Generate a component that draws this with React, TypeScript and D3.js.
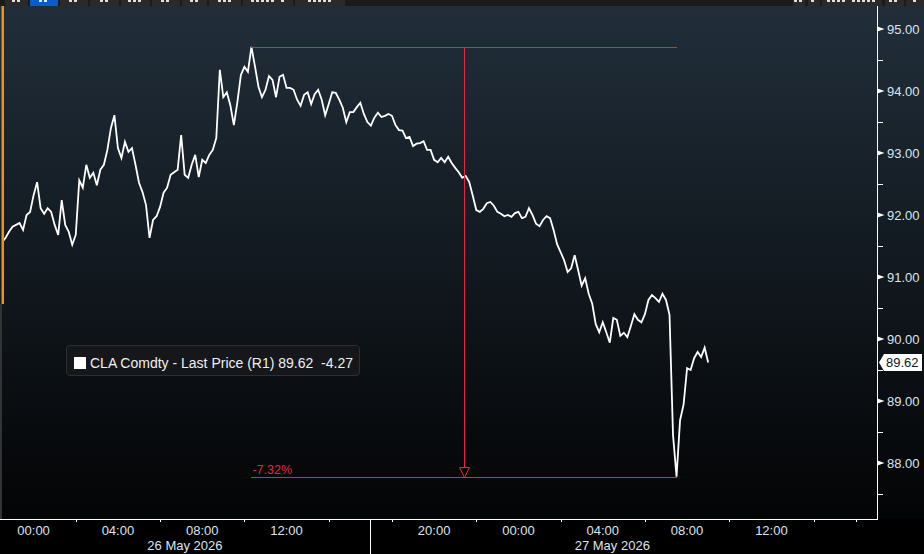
import { useEffect, useRef } from "react";
import * as d3 from "d3";

// trading hours counted from 26 May 2026 00:00, the daily 16:00-17:00 break taken out
const startHour = -1.5;
const stepMinutes = 10;

const prices = [
  91.56, 91.63, 91.73, 91.81, 91.84, 91.87, 91.76, 92.0, 92.05, 92.32,
  92.53, 92.11, 92.02, 92.11, 92.05, 91.84, 91.68, 92.24, 91.84, 91.73,
  91.52, 91.68, 92.56, 92.44, 92.81, 92.6, 92.68, 92.48, 92.73, 92.81,
  93.05, 93.4, 93.61, 93.08, 92.92, 93.18, 93.02, 93.08, 92.81, 92.52,
  92.37, 92.16, 91.63, 91.92, 91.98, 92.13, 92.36, 92.44, 92.65, 92.69,
  92.73, 93.29, 92.65, 92.6, 92.81, 92.97, 92.61, 92.89, 92.84, 92.97,
  93.05, 93.24, 94.34, 93.9, 93.98, 93.77, 93.45, 93.82, 94.26, 94.39,
  94.31, 94.71, 94.4, 94.07, 93.9, 94.02, 94.24, 94.18, 93.9, 94.23,
  94.26, 94.05, 94.05, 94.02, 93.86, 93.76, 93.94, 93.98, 93.79, 93.95,
  94.02, 93.86, 93.61, 93.79, 93.98, 93.97, 93.86, 93.73, 93.5, 93.66,
  93.66, 93.74, 93.81, 93.63, 93.5, 93.44, 93.57, 93.65, 93.58, 93.6,
  93.63, 93.6, 93.45, 93.37, 93.36, 93.24, 93.26, 93.11, 93.15, 93.16,
  93.19, 93.05, 93.05, 92.89, 92.85, 92.92, 92.85, 92.94, 92.84, 92.76,
  92.69, 92.6, 92.63, 92.53, 92.31, 92.08, 92.05, 92.1, 92.19, 92.21,
  92.15, 92.05, 92.02, 91.98, 92.0, 91.97, 92.03, 92.05, 91.95, 91.97,
  92.11, 92.0, 91.86, 91.82, 91.92, 91.98, 91.95, 91.76, 91.53, 91.4,
  91.27, 91.08, 91.14, 91.35, 91.11, 90.86, 90.98, 90.73, 90.57, 90.24,
  90.11, 90.27, 90.11, 89.94, 90.34, 90.31, 90.05, 90.1, 90.03, 90.21,
  90.4, 90.31, 90.27, 90.4, 90.63, 90.71, 90.66, 90.6, 90.73, 90.63,
  90.39, 88.45, 87.78, 88.69, 88.94, 89.53, 89.5, 89.69, 89.79, 89.71,
  89.86, 89.62,
];
const prevClose = 93.89;
const legendLabel = "CLA Comdty - Last Price (R1)";

const priceTicks = [88, 89, 90, 91, 92, 93, 94, 95];
const priceMinorTicks = [87.5, 88.5, 89.5, 90.5, 91.5, 92.5, 93.5, 94.5];

const timeTickHours = [0, 4, 8, 12, 19, 23, 27, 31, 35];
const timeTickLabels = ["00:00", "04:00", "08:00", "12:00", "20:00", "00:00", "04:00", "08:00", "12:00"];
const timeMinorHours = [2, 6, 10, 14, 17, 21, 25, 29, 33, 37, 39];
const sessionBreaks = [16, 39];
const dayLabels = ["26 May 2026", "27 May 2026"];

// toolbar above the chart is cut off, only the feet of its captions show
const toolbarTabs = ["1D", "3D", "1M", "6M", "YTD", "1Y", "5Y", "Max", "Daily v", "Table"];
const toolbarWidths = [23, 28, 28, 29, 29, 28, 25, 32, 50, 50];
const toolbarRight = ["<<", ">", "Line Chart", "+2", "*"];
const toolbarRightWidths = [12, 12, 60, 19, 18];

const W = 924;
const H = 554;
const FONT = "'Liberation Sans', Arial, sans-serif";
const AXIS_TEXT = "#dbe5ef";
const RED = "#e8253f";

const fmt = (v: number) => v.toFixed(2);

export default function App() {
  const svgRef = useRef<SVGSVGElement | null>(null);

  useEffect(() => {
    if (!svgRef.current) return;
    const svg = d3.select(svgRef.current);
    svg.selectAll("*").remove();

    const plot = { left: 0, right: 877.5, top: 6, bottom: 519 };

    const x = d3.scaleLinear().domain([0, 35]).range([33.6, 771.4]);
    const y = d3.scaleLinear().domain([88, 95]).range([463, 29]);
    const hourOf = (i: number) => startHour + (i * stepMinutes) / 60;

    const defs = svg.append("defs");
    const grad = defs.append("linearGradient").attr("id", "bg").attr("x1", 0).attr("y1", 0).attr("x2", 0).attr("y2", 1);
    grad.append("stop").attr("offset", "0%").attr("stop-color", "#212e3a");
    grad.append("stop").attr("offset", "100%").attr("stop-color", "#030405");
    defs.append("clipPath").attr("id", "plotClip")
      .append("rect").attr("x", 4).attr("y", plot.top).attr("width", plot.right - 4).attr("height", plot.bottom - plot.top);

    svg.append("rect").attr("width", W).attr("height", H).attr("fill", "#000");
    svg.append("rect").attr("x", 0).attr("y", plot.top).attr("width", W).attr("height", plot.bottom - plot.top).attr("fill", "url(#bg)");

    // toolbar sliver
    const bar = svg.append("g").attr("shape-rendering", "crispEdges");
    bar.append("rect").attr("width", W).attr("height", 6).attr("fill", "#1c1b18");
    const drawTab = (label: string, tx: number, w: number, active: boolean) => {
      bar.append("rect").attr("x", tx).attr("y", 0).attr("width", w).attr("height", 6)
        .attr("fill", active ? "#0a5cc7" : "#2a2a28");
      const cw = 5;
      const start = tx + w / 2 - (label.length * cw) / 2;
      label.split("").forEach((c, k) => {
        if (c === " ") return;
        bar.append("rect").attr("x", Math.round(start + k * cw)).attr("y", 0).attr("width", 3).attr("height", 2)
          .attr("fill", "#fff").attr("opacity", 0.85);
      });
    };
    let tx = 5;
    toolbarTabs.forEach((t, i) => {
      drawTab(t, tx, toolbarWidths[i], i === 1);
      tx += toolbarWidths[i] + 2;
    });
    let rx = 793;
    toolbarRight.forEach((t, i) => {
      drawTab(t, rx, toolbarRightWidths[i], false);
      rx += toolbarRightWidths[i] + 2.5;
    });

    // left edge marker
    svg.append("rect").attr("x", 1.5).attr("y", plot.top).attr("width", 2.5).attr("height", 298).attr("fill", "#ee9410");
    svg.append("rect").attr("x", 0).attr("y", 304).attr("width", 2).attr("height", plot.bottom - 304).attr("fill", "#333");

    // price line
    const line = d3.line<number>().x((_, i) => x(hourOf(i))).y((d) => y(d));
    svg.append("path").datum(prices).attr("clip-path", "url(#plotClip)")
      .attr("d", line).attr("fill", "none").attr("stroke", "#fff").attr("stroke-width", 1.8).attr("stroke-linejoin", "miter");

    // high-to-low measurement
    const hiIdx = d3.maxIndex(prices);
    const loIdx = d3.minIndex(prices);
    const hi = prices[hiIdx];
    const lo = prices[loIdx];
    const x1 = x(hourOf(hiIdx));
    const x2 = x(hourOf(loIdx));
    const xm = Math.round((x1 + x2) / 2);
    const yHi = Math.round(y(hi)) + 0.5;
    const yLo = Math.round(y(lo)) + 0.5;
    const m = svg.append("g").attr("shape-rendering", "crispEdges");
    m.append("line").attr("x1", x1).attr("x2", x2).attr("y1", yHi).attr("y2", yHi).attr("stroke", RED);
    m.append("line").attr("x1", x1).attr("x2", x2).attr("y1", yLo).attr("y2", yLo).attr("stroke", RED);
    m.append("line").attr("x1", xm + 0.5).attr("x2", xm + 0.5).attr("y1", yHi).attr("y2", yLo - 10).attr("stroke", RED);
    svg.append("path")
      .attr("d", `M${xm - 4.5},${yLo - 10}L${xm + 5.5},${yLo - 10}L${xm + 0.5},${yLo}Z`)
      .attr("fill", "none").attr("stroke", RED).attr("stroke-width", 1);
    const pct = (lo / hi - 1) * 100;
    svg.append("text").attr("x", x1 + 1).attr("y", yLo - 4).attr("fill", RED)
      .style("font", `12.5px ${FONT}`).text(`${fmt(pct)}%`);

    // right price axis
    const ax = svg.append("g").attr("shape-rendering", "crispEdges");
    ax.append("line").attr("x1", plot.right).attr("x2", plot.right).attr("y1", plot.top).attr("y2", plot.bottom).attr("stroke", "#fff");
    priceMinorTicks.forEach((v) => {
      ax.append("line").attr("x1", plot.right).attr("x2", plot.right + 5)
        .attr("y1", Math.round(y(v)) + 0.5).attr("y2", Math.round(y(v)) + 0.5).attr("stroke", "#fff");
    });
    priceTicks.forEach((v) => {
      const yy = y(v);
      svg.append("path").attr("d", `M${plot.right},${yy - 2.5}L${plot.right + 7},${yy}L${plot.right},${yy + 2.5}Z`).attr("fill", "#fff");
      svg.append("text").attr("x", 887).attr("y", yy).attr("dy", "0.36em").attr("fill", AXIS_TEXT)
        .style("font", `13px ${FONT}`).text(fmt(v));
    });

    // last price tag
    const last = prices[prices.length - 1];
    const yl = y(last);
    svg.append("path").attr("d", `M879,${yl}L884,${yl - 8.5}L922,${yl - 8.5}L922,${yl + 8.5}L884,${yl + 8.5}Z`).attr("fill", "#fff");
    svg.append("text").attr("x", 886).attr("y", yl).attr("dy", "0.36em").attr("fill", "#0b1524")
      .style("font", `13px ${FONT}`).text(fmt(last));

    // bottom time axis
    const bx = svg.append("g").attr("shape-rendering", "crispEdges");
    bx.append("line").attr("x1", 0).attr("x2", plot.right).attr("y1", plot.bottom + 0.5).attr("y2", plot.bottom + 0.5).attr("stroke", "#fff");
    timeMinorHours.forEach((h) => {
      bx.append("line").attr("x1", Math.round(x(h)) + 0.5).attr("x2", Math.round(x(h)) + 0.5)
        .attr("y1", plot.bottom).attr("y2", plot.bottom + 3).attr("stroke", "#fff");
    });
    sessionBreaks.slice(0, 1).forEach((h) => {
      bx.append("line").attr("x1", Math.round(x(h)) - 0.5).attr("x2", Math.round(x(h)) - 0.5)
        .attr("y1", plot.bottom).attr("y2", H).attr("stroke", "#fff");
    });
    timeTickHours.forEach((h, i) => {
      svg.append("text").attr("x", x(h)).attr("y", 535).attr("text-anchor", "middle").attr("fill", AXIS_TEXT)
        .style("font", `13px ${FONT}`).text(timeTickLabels[i]);
    });
    dayLabels.forEach((d, i) => {
      const a = i === 0 ? plot.left : x(sessionBreaks[i - 1]) - 1;
      const b = x(sessionBreaks[i]) - 1;
      svg.append("text").attr("x", (a + b) / 2).attr("y", 550).attr("text-anchor", "middle").attr("fill", AXIS_TEXT)
        .style("font", `13px ${FONT}`).text(d);
    });

    // legend
    const lg = svg.append("g");
    lg.append("rect").attr("x", 66.5).attr("y", 345.5).attr("width", 293).attr("height", 30).attr("rx", 3)
      .attr("fill", "#15171a").attr("stroke", "#2c2f33");
    lg.append("rect").attr("x", 74).attr("y", 357).attr("width", 12).attr("height", 12).attr("fill", "#fff");
    lg.append("text").attr("x", 90).attr("y", 367.5).attr("fill", "#eef0f2").style("font", `14px ${FONT}`)
      .attr("xml:space", "preserve")
      .text(`${legendLabel} ${fmt(last)}  ${fmt(last - prevClose)}`);
  }, []);

  return (
    <svg ref={svgRef} width={W} height={H} style={{ position: "fixed", left: 0, top: 0, display: "block" }}></svg>
  );
}
